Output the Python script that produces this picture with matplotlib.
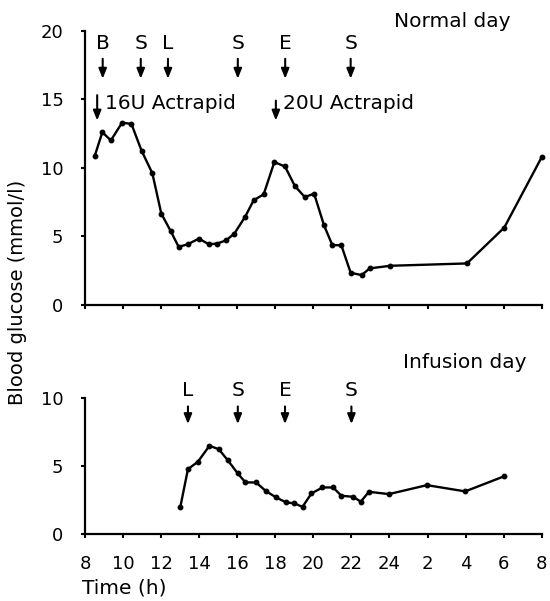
"""
Blood glucose over a normal day and an infusion day.
"""

import matplotlib

matplotlib.use("Agg")
import matplotlib.pyplot as plt

plt.rcParams["font.family"] = ["DejaVu Sans"]
plt.rcParams["font.size"] = 13

# -- Data (time in hours, >24 means next morning) --
normal_t = [8.52, 8.91, 9.36, 9.95, 10.44, 10.97, 11.54, 12.01, 12.50, 12.92,
            13.41, 13.98, 14.51, 14.95, 15.42, 15.85, 16.41, 16.86, 17.39, 17.95,
            18.51, 19.03, 19.55, 20.04, 20.56, 21.00, 21.47, 21.96, 22.54, 22.96,
            24.05, 28.07, 30.03, 32.0]
normal_g = [10.9, 12.6, 12.0, 13.3, 13.2, 11.26, 9.6, 6.66, 5.40, 4.24,
            4.43, 4.84, 4.43, 4.48, 4.72, 5.21, 6.42, 7.63, 8.07, 10.42,
            10.10, 8.67, 7.87, 8.12, 5.81, 4.36, 4.36, 2.35, 2.18, 2.67,
            2.86, 3.03, 5.64, 10.78]

infusion_t = [13.01, 13.41, 13.93, 14.54, 15.03, 15.50, 16.03, 16.43, 16.99, 17.51,
              18.04, 18.56, 19.00, 19.43, 19.90, 20.48, 21.04, 21.47, 22.10, 22.49,
              22.92, 23.97, 25.97, 27.98, 30.04]
infusion_g = [2.0, 4.78, 5.32, 6.5, 6.25, 5.44, 4.46, 3.80, 3.80, 3.16,
              2.70, 2.33, 2.26, 2.0, 2.99, 3.43, 3.43, 2.82, 2.74, 2.38,
              3.11, 2.94, 3.60, 3.14, 4.26]

# meals: B breakfast, S snack, L lunch, E evening meal
normal_meals = ["B", "S", "L", "S", "E", "S"]
normal_meal_t = [8.93, 10.93, 12.36, 16.03, 18.52, 21.96]
infusion_meals = ["L", "S", "E", "S"]
infusion_meal_t = [13.41, 16.03, 18.51, 22.0]

insulin_labels = ["16U Actrapid", "20U Actrapid"]
insulin_t = [8.64, 18.03]

x_ticks = list(range(8, 33, 2))
x_ticklabels = ["8", "10", "12", "14", "16", "18", "20", "22", "24", "2", "4", "6", "8"]

W, H = 550, 601
fig = plt.figure(figsize=(W / 100, H / 100), dpi=100)

left = 85 / W
width = (541.7 - 85) / W
ax1 = fig.add_axes([left, 1 - 305 / H, width, (305 - 30.7) / H])
ax2 = fig.add_axes([left, 1 - 534 / H, width, (534 - 398.3) / H])

arrow_kw = dict(arrowstyle="-|>,head_length=0.45,head_width=0.18", color="black",
                lw=1.5, shrinkA=0, shrinkB=0)
txt_size = 14.5

for ax in (ax1, ax2):
    ax.spines["top"].set_visible(False)
    ax.spines["right"].set_visible(False)
    ax.spines["left"].set_linewidth(1.6)
    ax.spines["bottom"].set_linewidth(1.6)
    ax.tick_params(direction="out", length=3, width=1.5)
    ax.tick_params(axis="y", pad=12.5)
    ax.tick_params(axis="x", pad=12)
    ax.set_xlim(8, 32)
    ax.set_xticks(x_ticks)

ax1.set_xticklabels([])
ax2.set_xticklabels(x_ticklabels)

# top panel
ax1.plot(normal_t, normal_g, "-o", color="black", lw=1.7, ms=3.2, clip_on=False)
ax1.set_ylim(0, 20)
ax1.set_yticks([0, 5, 10, 15, 20])
ax1.text(30.35, 20.3, "Normal day", ha="right", va="baseline", fontsize=txt_size)
for lab, t in zip(normal_meals, normal_meal_t):
    ax1.text(t, 19.1, lab, ha="center", va="center", fontsize=txt_size)
    ax1.annotate("", xy=(t, 16.5), xytext=(t, 17.95), arrowprops=arrow_kw)
for lab, t, top in zip(insulin_labels, insulin_t, [15.3, 14.9]):
    ax1.annotate("", xy=(t, 13.45), xytext=(t, top), arrowprops=arrow_kw)
    ax1.text(t + 0.4, 14.72, lab, ha="left", va="center", fontsize=txt_size)

# bottom panel
ax2.plot(infusion_t, infusion_g, "-o", color="black", lw=1.7, ms=3.2, clip_on=False)
ax2.set_ylim(0, 10)
ax2.set_yticks([0, 5, 10])
ax2.text(31.2, 12.2, "Infusion day", ha="right", va="baseline", fontsize=txt_size,
         clip_on=False)
for lab, t in zip(infusion_meals, infusion_meal_t):
    ax2.text(t, 10.6, lab, ha="center", va="center", fontsize=txt_size, clip_on=False)
    ax2.annotate("", xy=(t, 8.1), xytext=(t, 9.4), arrowprops=arrow_kw,
                 annotation_clip=False)

fig.text(18 / W, 1 - 292 / H, "Blood glucose (mmol/l)", rotation=90,
         ha="center", va="center", fontsize=14)
fig.text(82 / W, 1 - 588 / H, "Time (h)", ha="left", va="center", fontsize=14.5)

fig.savefig("out.png", dpi=100)
